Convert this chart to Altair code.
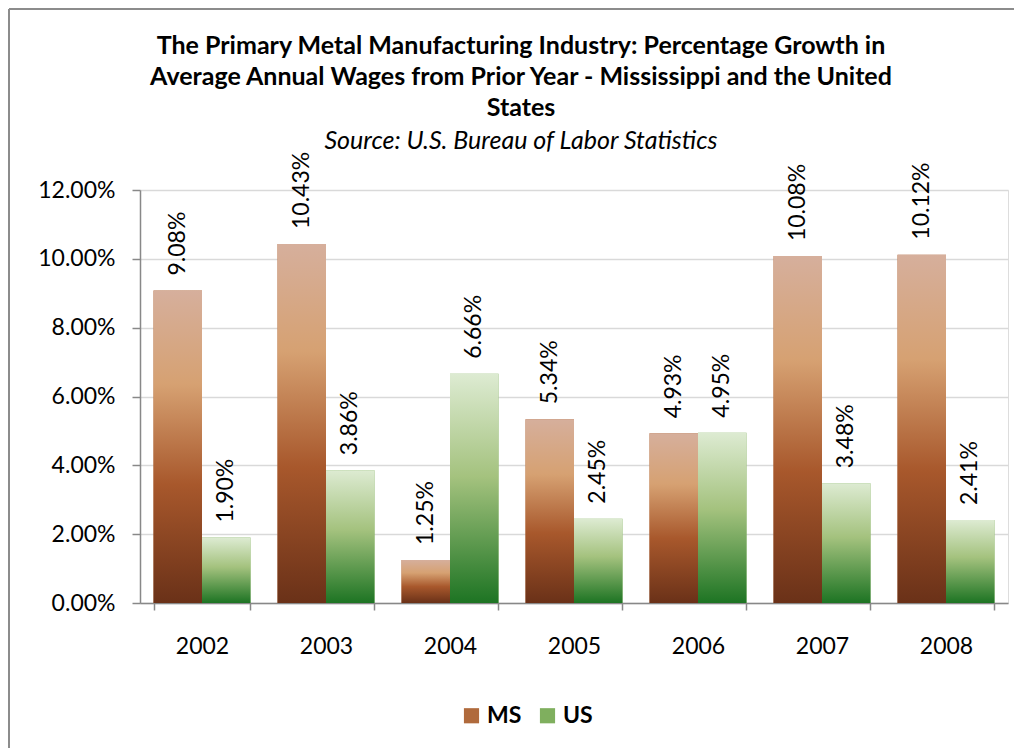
import altair as alt
import pandas as pd

years = ["2002", "2003", "2004", "2005", "2006", "2007", "2008"]
ms_values = [9.08, 10.43, 1.25, 5.34, 4.93, 10.08, 10.12]
us_values = [1.90, 3.86, 6.66, 2.45, 4.95, 3.48, 2.41]
series_names = ["MS", "US"]
title_lines = [
    "The Primary Metal Manufacturing Industry: Percentage Growth in",
    "Average Annual Wages from Prior Year - Mississippi and the United",
    "States",
]
subtitle = "Source: U.S. Bureau of Labor Statistics"
y_ticks = [0, 0.02, 0.04, 0.06, 0.08, 0.10, 0.12]

rows = []
for i, y in enumerate(years):
    rows.append({"year": y, "series": "MS", "value": ms_values[i] / 100})
    rows.append({"year": y, "series": "US", "value": us_values[i] / 100})
df = pd.DataFrame(rows)

FONT = "Lato"
W, H = 868, 413
PAD = {"left": 132, "top": 182, "right": 6, "bottom": 145}

grad_ms = {
    "gradient": "linear", "x1": 0, "y1": 0, "x2": 0, "y2": 1,
    "stops": [
        {"offset": 0, "color": "#D6AF9C"},
        {"offset": 0.3, "color": "#D6A172"},
        {"offset": 0.62, "color": "#A8582C"},
        {"offset": 1, "color": "#6A3118"},
    ],
}
grad_us = {
    "gradient": "linear", "x1": 0, "y1": 0, "x2": 0, "y2": 1,
    "stops": [
        {"offset": 0, "color": "#DDEBD2"},
        {"offset": 0.45, "color": "#A4C27E"},
        {"offset": 1, "color": "#1D7423"},
    ],
}

x_enc = alt.X(
    "year:N",
    title=None,
    sort=years,
    scale=alt.Scale(paddingInner=0.218, paddingOuter=0.109),
    axis=alt.Axis(
        labelAngle=0, labelFontSize=23, labelFont=FONT, labelColor="#000000",
        labelPadding=25, tickBand="extent", tickSize=7, tickColor="#888888",
        domainColor="#888888", domainWidth=1.5, tickWidth=1.5, grid=False,
    ),
)
y_enc = alt.Y(
    "value:Q",
    title=None,
    scale=alt.Scale(domain=[0, 0.12], nice=False),
    axis=alt.Axis(
        values=y_ticks, format=".2%", labelFontSize=23, labelFont=FONT,
        labelColor="#000000", labelPadding=17, tickSize=8, tickColor="#888888",
        tickWidth=1.5, domainColor="#888888", domainWidth=1.5,
        gridColor="#D9D9D9", gridWidth=1.5,
    ),
)

base = alt.Chart(df)

# solid bars underneath (carry the legend)
bars_legend = base.mark_bar().encode(
    x=x_enc,
    y=y_enc,
    xOffset=alt.XOffset("series:N", sort=series_names),
    color=alt.Color(
        "series:N",
        scale=alt.Scale(domain=series_names, range=["#B06A3C", "#7FAF5E"]),
        legend=alt.Legend(
            orient="none", legendX=320, legendY=514, direction="horizontal",
            title=None, symbolType="square", symbolSize=230, symbolStrokeWidth=0,
            labelFontSize=23, labelFontWeight="bold", labelFont=FONT,
            labelColor="#000000", columnPadding=14, symbolOpacity=1,
        ),
    ),
)

# gradient bars on top
bars = base.mark_bar().encode(
    x=alt.X("year:N", sort=years),
    y="value:Q",
    xOffset=alt.XOffset("series:N", sort=series_names),
    fill=alt.condition(alt.datum.series == "MS", alt.value(grad_ms), alt.value(grad_us)),
)

labels = base.mark_text(
    angle=270, align="left", baseline="middle", dx=15, fontSize=23, font=FONT,
    color="#000000",
).encode(
    x=alt.X("year:N", sort=years),
    y="value:Q",
    xOffset=alt.XOffset("series:N", sort=series_names),
    text=alt.Text("value:Q", format=".2%"),
)

border_data = alt.Data(values=[{"k": 1}])
top_line = alt.Chart(border_data).mark_rule(color="#8C8C8C", strokeWidth=2).encode(
    x=alt.value(-131), x2=alt.value(W + PAD["right"]), y=alt.value(-181)
)
left_line = alt.Chart(border_data).mark_rule(color="#8C8C8C", strokeWidth=2).encode(
    x=alt.value(-131), y=alt.value(-181), y2=alt.value(H + PAD["bottom"])
)

chart = alt.layer(top_line, left_line, bars_legend, bars, labels).properties(
    width=W,
    height=H,
    padding=PAD,
    autosize=alt.AutoSizeParams(type="none"),
    title=alt.TitleParams(
        text=title_lines,
        subtitle=subtitle,
        anchor="middle",
        frame="group",
        dx=-53,
        offset=-146,
        fontSize=25,
        font=FONT,
        fontWeight="bold",
        color="#000000",
        lineHeight=31,
        subtitleFont=FONT,
        subtitleFontSize=25,
        subtitleFontStyle="italic",
        subtitleColor="#000000",
        subtitlePadding=8,
    ),
).configure_view(stroke=None).configure(background="white")

chart.save("out.html", embed_options={"renderer": "svg", "actions": False})
